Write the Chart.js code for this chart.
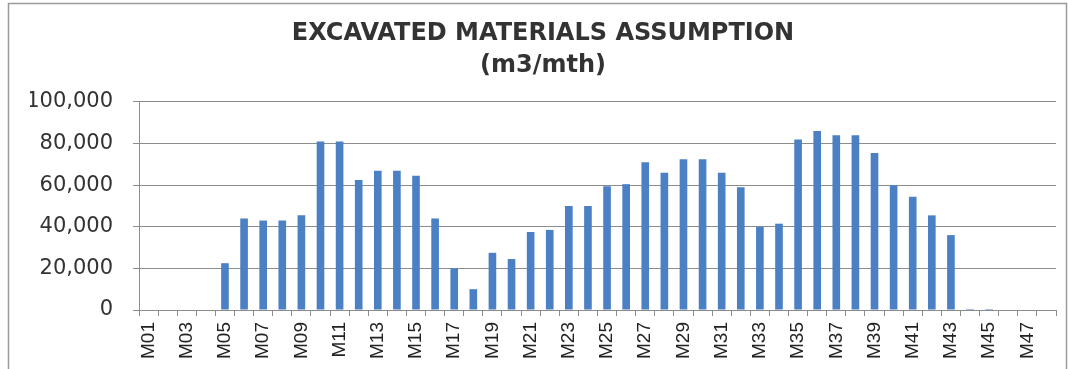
<!DOCTYPE html>
<html>
<head>
<meta charset="utf-8">
<script src="https://cdn.jsdelivr.net/npm/chart.js@4.4.0/dist/chart.umd.min.js"></script>
<style>
  html, body { margin: 0; padding: 0; background: #ffffff; }
  #wrap { position: relative; width: 1068px; height: 369px; }
</style>
</head>
<body>
<div id="wrap"><canvas id="chart"></canvas></div>
<script>
// Months of the programme
const months = [
  'M01','M02','M03','M04','M05','M06','M07','M08','M09','M10','M11','M12',
  'M13','M14','M15','M16','M17','M18','M19','M20','M21','M22','M23','M24',
  'M25','M26','M27','M28','M29','M30','M31','M32','M33','M34','M35','M36',
  'M37','M38','M39','M40','M41','M42','M43','M44','M45','M46','M47','M48'
];

// Excavated volume per month (m3)
const excavated = [
  0, 0, 0, 0, 22500, 44000, 43000, 43000, 45500, 81000, 81000, 62500,
  67000, 67000, 64500, 44000, 20000, 10000, 27500, 24500, 37500, 38500, 50000, 50000,
  59500, 60500, 71000, 66000, 72500, 72500, 66000, 59000, 40000, 41500, 82000, 86000,
  84000, 84000, 75500, 60000, 54500, 45500, 36000, 500, 500, 0, 0, 0
];

const titleLines = ['EXCAVATED MATERIALS ASSUMPTION', '(m3/mth)'];
const yMin = 0, yMax = 100000, yStep = 20000;

const gridColor = '#8c8c8c';
const textColor = '#333333';

// Thin grey frame around the chart object
const framePlugin = {
  id: 'frame',
  beforeDraw(chart) {
    const ctx = chart.ctx;
    ctx.save();
    ctx.fillStyle = '#ffffff';
    ctx.fillRect(0, 0, chart.width, chart.height);
    ctx.strokeStyle = '#9a9a9a';
    ctx.lineWidth = 1.5;
    ctx.strokeRect(8.5, 3.5, 1058, 420);
    ctx.restore();
  }
};

new Chart(document.getElementById('chart'), {
  type: 'bar',
  data: {
    labels: months,
    datasets: [{
      data: excavated,
      backgroundColor: '#4b80c4',
      borderWidth: 0,
      barPercentage: 0.4,
      categoryPercentage: 1.0
    }]
  },
  plugins: [framePlugin],
  options: {
    responsive: true,
    maintainAspectRatio: false,
    animation: false,
    layout: { padding: { left: 30, right: 12, top: 0, bottom: 0 } },
    plugins: {
      legend: { display: false },
      tooltip: { enabled: false },
      title: {
        display: true,
        text: titleLines,
        color: textColor,
        font: { family: 'DejaVu Sans', size: 24, weight: 'bold', lineHeight: 1.3333 },
        padding: { top: 18, bottom: 20 }
      }
    },
    scales: {
      x: {
        offset: true,
        grid: {
          display: true,
          drawOnChartArea: false,
          drawTicks: true,
          tickLength: 6,
          color: gridColor,
          offset: true
        },
        border: { display: true, color: gridColor, width: 1 },
        ticks: {
          autoSkip: false,
          maxRotation: 90,
          minRotation: 90,
          padding: 6,
          color: '#222222',
          font: { family: 'Liberation Sans', size: 19 },
          callback: function (value, index) {
            return index % 2 === 0 ? months[index] : '';
          }
        },
        afterFit(scale) {
          scale.height = 59;
          scale.paddingLeft = 0;
          scale.paddingRight = 0;
        }
      },
      y: {
        min: yMin,
        max: yMax,
        grid: {
          color: gridColor,
          drawTicks: true,
          tickLength: 6
        },
        border: { display: true, color: gridColor, width: 1 },
        ticks: {
          stepSize: yStep,
          padding: 20,
          color: textColor,
          font: { family: 'DejaVu Sans', size: 21 },
          callback: function (value) {
            return value.toLocaleString('en-US');
          }
        },
        afterFit(scale) { scale.width = 109; }
      }
    }
  }
});
</script>
</body>
</html>
